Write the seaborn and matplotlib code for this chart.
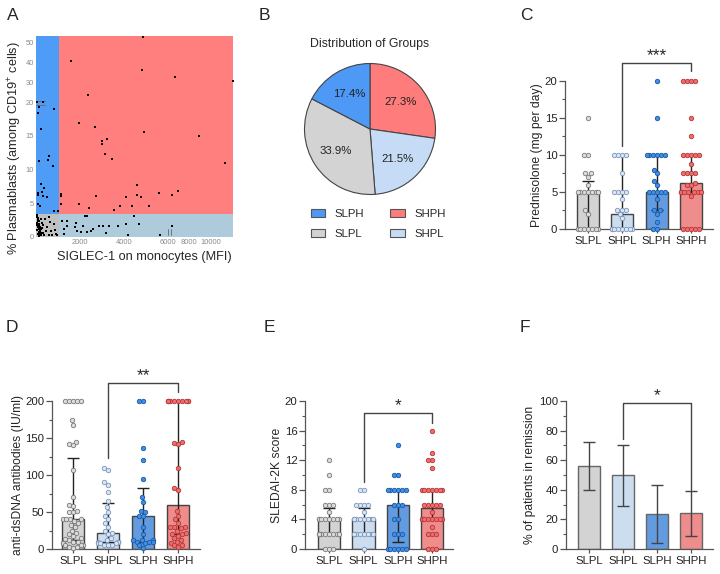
import warnings
warnings.filterwarnings("ignore")
import numpy as np
import pandas as pd
import matplotlib
matplotlib.use("Agg")
import matplotlib.pyplot as plt
import seaborn as sns
from matplotlib.patches import Patch
from matplotlib.ticker import MultipleLocator

# ---------------- data ----------------
groups = ["SLPL", "SHPL", "SLPH", "SHPH"]

# Panel A: SIGLEC-1 (MFI) vs % plasmablasts, per group
A_x_SHPH = [4890, 1605, 4820, 6710, 12100, 2390, 1970, 2700, 4940, 8950, 3000, 3250, 3030, 3150, 3470,
            11290, 1140, 1160, 2730, 4590, 4620, 4790, 4090, 5600, 6370, 6960, 1150, 1950, 2410, 3570,
            3830, 4360, 5150]
A_y_SHPH = [52.8, 40.6, 36.0, 32.6, 30.6, 23.5, 16.9, 16.4, 15.6, 15.0, 14.3, 14.5, 13.8, 12.3, 11.6,
            11.0, 6.35, 6.1, 6.06, 7.7, 6.2, 5.9, 5.9, 6.5, 6.2, 6.85, 4.9, 4.8, 4.2, 4.0,
            4.6, 4.6, 4.6]
A_x_SLPH = [345, 150, 105, 830, 255, 135, 605, 575, 770, 240, 375, 285, 120, 90, 330, 500, 195, 120,
            845, 1000, 40]
A_y_SLPH = [20.1, 19.25, 18.4, 18.96, 16.0, 11.2, 12.0, 11.4, 10.5, 7.9, 7.25, 6.65, 6.45, 6.25, 6.1,
            5.9, 4.5, 4.9, 3.8, 3.8, 20.3]
A_x_SHPL = [1210, 1410, 1820, 2240, 2350, 1440, 1290, 1790, 2170, 1890, 2060, 2510, 2620, 2860, 3070,
            3320, 2320, 3180, 3730, 4100, 4200, 4450, 4710, 5650, 6400, 1300]
A_y_SHPL = [2.4, 2.4, 2.1, 3.1, 3.1, 1.6, 1.15, 1.4, 1.6, 0.9, 0.65, 0.9, 1.15, 1.6, 1.6,
            1.6, 0.65, 0.5, 1.6, 1.9, 0.2, 3.1, 1.9, 0.3, 1.6, 0.4]
A_x_SLPL = [45, 62, 88, 105, 128, 150, 172, 195, 215, 240, 55, 75, 98, 118, 140, 163, 185, 208,
            262, 290, 318, 345, 372, 410, 455, 530, 590, 640, 705, 760, 830, 905, 965,
            48, 92, 135, 225, 270, 305, 615, 870]
A_y_SLPL = [3.2, 2.9, 2.6, 2.3, 1.9, 1.6, 1.2, 0.9, 0.5, 0.2, 1.0, 2.1, 0.4, 2.8, 0.7, 2.4, 1.5, 0.3,
            1.1, 2.0, 0.6, 1.7, 0.2, 2.6, 0.9, 1.4, 0.3, 2.2, 0.8, 0.2, 1.9, 0.4, 0.3,
            1.8, 1.5, 0.1, 2.7, 0.6, 1.3, 2.9, 1.0]
A_siglec_cut = 1050
A_plasma_cut = 3.4
A_xmax = 12100
A_ymax = 53.3
A_xticks = [2000, 4000, 6000, 8000, 10000]
A_yticks = [0, 5, 10, 15, 20, 30, 40, 50]

# Panel B: pie
pie_groups = ["SHPH", "SHPL", "SLPL", "SLPH"]
pie_values = [27.3, 21.5, 33.9, 17.4]

# Panel C: prednisolone
C_pts = {
    "SLPL": [15, 10, 10, 7.5, 7.5, 7, 6, 5, 5, 5, 5, 5, 5, 5, 2.5, 2, 0, 0, 0, 0, 0, 0, 0],
    "SHPL": [10, 10, 10, 10, 7.5, 5, 5, 5, 5, 4, 2.5, 2.5, 2.5, 2, 1.5, 0, 0, 0, 0, 0, 0, 0, 0],
    "SLPH": [20, 15, 10, 10, 10, 10, 10, 10, 8, 7.5, 6.5, 6, 5, 5, 5, 5, 5, 4, 2.5, 2.5, 2, 1, 0, 0],
    "SHPH": [20, 20, 20, 20, 15, 12.5, 10, 10, 10, 10, 10, 8.75, 7.5, 7.5, 7.5, 7.5, 6.25, 6, 6,
             5, 5, 5, 5, 5, 5, 5, 4.5, 0, 0, 0, 0, 0],
}
C_med = [5, 2, 5, 6.25]
C_lo = [0, 0, 2.5, 5]
C_hi = [6.5, 10, 10, 10]

# Panel D: anti-dsDNA
D_pts = {
    "SLPL": [200, 200, 200, 200, 200, 175, 168, 145, 142, 140, 107, 70, 60, 58, 52, 50, 50, 40, 40, 40,
             40, 38, 35, 33, 30, 25, 22, 20, 18, 15, 14, 12, 10, 10, 8, 8, 6, 5, 5, 3, 3, 2],
    "SHPL": [110, 107, 90, 87, 77, 65, 57, 50, 45, 40, 35, 30, 25, 22, 20, 15, 12, 10, 10, 10, 10,
             8, 8, 8, 5, 5, 5],
    "SLPH": [200, 200, 137, 120, 95, 70, 63, 52, 50, 45, 44, 30, 20, 12, 12, 12, 10, 10, 10, 8, 5, 2],
    "SHPH": [200, 200, 200, 200, 200, 200, 200, 200, 200, 200, 145, 143, 142, 110, 82, 80, 52, 45, 40,
             35, 30, 30, 30, 28, 25, 22, 20, 20, 18, 15, 12, 10, 8, 5, 5, 3],
}
D_med = [40, 22, 45, 59]
D_lo = [12, 10, 10, 20]
D_hi = [123, 62, 83, 200]

# Panel E: SLEDAI-2K
E_pts = {
    "SLPL": [12, 10, 8, 8, 6, 6, 6, 5, 4, 4, 4, 4, 4, 4, 4, 4, 2, 2, 2, 2, 2, 2, 2, 2, 0, 0, 0],
    "SHPL": [8, 8, 6, 6, 6, 6, 5, 4, 4, 4, 4, 4, 4, 4, 4, 2, 2, 2, 2, 2, 2, 2, 2, 0],
    "SLPH": [14, 10, 10, 8, 8, 8, 8, 8, 8, 6, 6, 6, 4, 4, 2, 2, 2, 0, 0, 0, 0, 0, 0],
    "SHPH": [16, 13, 12, 12, 11, 8, 8, 8, 8, 8, 8, 8, 6, 6, 6, 6, 6, 5, 4, 4, 4, 4, 4, 4, 4, 4,
             3, 2, 2, 2, 0, 0, 0],
}
E_med = [4, 4, 6, 5.5]
E_lo = [2, 2, 1, 4]
E_hi = [5.5, 5.5, 8, 8]

# Panel F: remission
F_val = [56, 50, 23.5, 24]
F_lo = [40, 29, 4, 9]
F_hi = [72, 70.5, 43.5, 39.5]

# ---------------- style ----------------
sns.set_theme(style="ticks")
plt.rcParams["font.family"] = ["Liberation Sans", "DejaVu Sans"]
plt.rcParams["mathtext.fontset"] = "custom"
plt.rcParams["mathtext.rm"] = "Liberation Sans"
plt.rcParams["mathtext.it"] = "Liberation Sans:italic"
plt.rcParams["mathtext.bf"] = "Liberation Sans:bold"

bar_face = {"SLPL": "#d3d3d3", "SHPL": "#c7dcf6", "SLPH": "#4d99f5", "SHPH": "#ff7c7c"}
pt_face = {"SLPL": "#dcdcdc", "SHPL": "#d8e6f8", "SLPH": "#3f8ee8", "SHPH": "#f26c6c"}
pt_edge = {"SLPL": "#7a7a7a", "SHPL": "#7d95b8", "SLPH": "#1e5aa0", "SHPH": "#b03a3a"}
AXC = "#555555"

W, H = 720, 574
fig = plt.figure(figsize=(W / 100, H / 100), dpi=100)


def px_axes(l, t, r, b):
    return fig.add_axes([l / W, 1 - b / H, (r - l) / W, (b - t) / H])


def label(x, y, s):
    fig.text(x / W, 1 - y / H, s, fontsize=12.5, ha="left", va="baseline")


# ---------------- Panel A ----------------
def fx(x):
    x = np.asarray(x, float)
    return np.where(x <= 6000, x, 6000 + (x - 6000) * 0.49)


def fxi(t):
    t = np.asarray(t, float)
    return np.where(t <= 6000, t, 6000 + (t - 6000) / 0.49)


def fy(y):
    y = np.asarray(y, float)
    return np.where(y <= 20, y, 20 + (y - 20) * 0.298)


def fyi(t):
    t = np.asarray(t, float)
    return np.where(t <= 20, t, 20 + (t - 20) / 0.298)


axA = px_axes(35.7, 35.7, 233.3, 236.7)
axA.set_xscale("function", functions=(fx, fxi))
axA.set_yscale("function", functions=(fy, fyi))
axA.fill_between([0, A_siglec_cut], A_plasma_cut, A_ymax, color="#4f9cf6", lw=0)
axA.fill_between([A_siglec_cut, A_xmax], A_plasma_cut, A_ymax, color="#ff7f7f", lw=0)
axA.fill_between([0, A_siglec_cut], 0, A_plasma_cut, color="#c0c0c0", lw=0)
axA.fill_between([A_siglec_cut, A_xmax], 0, A_plasma_cut, color="#aecbdb", lw=0)
dfA = pd.DataFrame({
    "x": A_x_SHPH + A_x_SLPH + A_x_SHPL + A_x_SLPL,
    "y": A_y_SHPH + A_y_SLPH + A_y_SHPL + A_y_SLPL,
})
sns.scatterplot(data=dfA, x="x", y="y", ax=axA, color="black", s=2.6, marker="s", linewidth=0, zorder=5)
# axis break marks
axA.plot([0, 420], [20.7, 20.7], color="#666666", lw=0.6, clip_on=False)
axA.plot([0, 420], [19.6, 19.6], color="#666666", lw=0.6, clip_on=False)
axA.plot([6000, 6000], [0.2, 1.1], color="#666666", lw=0.6)
axA.plot([6330, 6330], [0.2, 1.1], color="#666666", lw=0.6)
axA.set_xlim(0, A_xmax)
axA.set_ylim(0, A_ymax)
for s in axA.spines.values():
    s.set_visible(False)
axA.set_xticks(A_xticks)
axA.set_xticklabels([str(v) for v in A_xticks])
axA.set_yticks(A_yticks)
axA.set_yticklabels([str(v) for v in A_yticks])
axA.minorticks_off()
axA.tick_params(axis="x", length=0, labelsize=5.4, labelcolor="#8a8a8a", pad=2)
axA.tick_params(axis="y", length=0, labelsize=5.4, labelcolor="#8a8a8a", pad=1)
axA.set_xlabel("SIGLEC-1 on monocytes (MFI)", fontsize=9.2)
axA.set_ylabel("% Plasmablasts (among CD19$^{+}$ cells)", fontsize=9.2)
axA.xaxis.set_label_coords(0.55, -0.072)
axA.yaxis.set_label_coords(-0.06, 0.44)
label(7, 20, "A")

# ---------------- Panel B ----------------
R = 66.8
axB = px_axes(370 - R, 129 - R, 370 + R, 129 + R)
pie_cols = {"SHPH": "#ff7c7c", "SHPL": "#c6dcf6", "SLPL": "#d3d3d3", "SLPH": "#4d99f5"}
wedges, texts, autotexts = axB.pie(
    pie_values, colors=[pie_cols[g] for g in pie_groups],
    startangle=90, counterclock=False, autopct="%.1f%%", pctdistance=0.62,
    wedgeprops=dict(edgecolor="#444444", linewidth=0.8), textprops=dict(fontsize=8.2, color="#222222"))
axB.set_xlim(-1.02, 1.02)
axB.set_ylim(-1.02, 1.02)
axB.set_aspect("equal")
axB.axis("off")
fig.text(370 / W, 1 - 44.5 / H, "Distribution of Groups", fontsize=8.8, ha="center", va="center")
leg_order = ["SLPH", "SLPL", "SHPH", "SHPL"]
handles = [Patch(facecolor=pie_cols[g], edgecolor="#555555", linewidth=0.8) for g in leg_order]
fig.legend(handles, leg_order, ncol=2, loc="center", bbox_to_anchor=(378 / W, 1 - 224 / H),
           frameon=False, fontsize=8.2, handlelength=1.3, handleheight=0.65, handletextpad=0.8,
           columnspacing=2.3, labelspacing=0.85)
label(259, 20, "B")

# ---------------- bar panels ----------------
swarm_items = []


def style_axes(ax, xlim, ylim, major, minor, ylabel, labelpad):
    ax.set_xlim(*xlim)
    ax.set_ylim(*ylim)
    sns.despine(ax=ax)
    for s in ["left", "bottom"]:
        ax.spines[s].set_color(AXC)
        ax.spines[s].set_linewidth(0.9)
    ax.set_yticks(major)
    ax.yaxis.set_minor_locator(MultipleLocator(minor))
    ax.tick_params(axis="y", which="major", length=4, width=0.9, color=AXC, labelsize=8.2,
                   labelcolor="#222222", pad=1.5)
    ax.tick_params(axis="y", which="minor", length=2.5, width=0.8, color=AXC)
    ax.tick_params(axis="x", length=3, width=0.9, color=AXC, labelsize=8.2, labelcolor="#222222", pad=2)
    ax.set_xlabel("")
    ax.set_ylabel(ylabel, fontsize=8.7, labelpad=labelpad)


def bracket(ax, yl, yb, yr, stars):
    ax.plot([1, 1, 3, 3], [yl, yb, yb, yr], color="#444444", lw=1, clip_on=False, zorder=6)
    ax.text(2, yb, stars, ha="center", va="bottom", fontsize=12.5, clip_on=False)


def bar_panel(ax, pts, med, lo, hi, edge="#444444", ecol="#222222"):
    sns.barplot(x=groups, y=med, order=groups, hue=groups, hue_order=groups,
                palette=bar_face, width=0.64, edgecolor=edge, linewidth=1,
                errorbar=None, legend=False, ax=ax, zorder=1)
    lo = np.array(lo, float)
    hi = np.array(hi, float)
    ax.errorbar(x=np.arange(len(groups)), y=(lo + hi) / 2, yerr=(hi - lo) / 2, fmt="none",
                ecolor=ecol, elinewidth=1, capsize=4, capthick=1, zorder=3)
    if pts is not None:
        for i, g in enumerate(groups):
            vals = pts[g]
            n_before = len(ax.collections)
            sns.swarmplot(x=[g] * len(vals), y=vals, order=groups, color=pt_face[g],
                          edgecolor=pt_edge[g], linewidth=0.6, size=3.2, ax=ax, zorder=4)
            for c in ax.collections[n_before:]:
                swarm_items.append((c, i))
    for c in ax.collections:
        c.set_clip_on(False)


# C
axC = px_axes(565, 81, 713, 229)
bar_panel(axC, C_pts, C_med, C_lo, C_hi)
style_axes(axC, (-0.67, 3.64), (0, 20), [0, 5, 10, 15, 20], 2.5, "Prednisolone (mg per day)", 1.2)
bracket(axC, 11.2, 22.4, 21.35, "***")
label(520, 20, "C")

# D
axD = px_axes(52, 401, 200, 549)
bar_panel(axD, D_pts, D_med, D_lo, D_hi)
style_axes(axD, (-0.6, 3.63), (0, 200), [0, 50, 100, 150, 200], 25, "anti-dsDNA antibodies (IU/ml)", 1)
bracket(axD, 123, 224.3, 212, "**")
label(6, 332, "D")

# E
axE = px_axes(305, 401, 453, 549)
bar_panel(axE, E_pts, E_med, E_lo, E_hi)
style_axes(axE, (-0.7, 3.6), (0, 20), [0, 4, 8, 12, 16, 20], 2, "SLEDAI-2K score", 1)
bracket(axE, 9.05, 18.4, 17.0, "*")
label(264, 332, "E")

# F
axF = px_axes(566, 401, 713, 549)
bar_panel(axF, None, F_val, F_lo, F_hi, edge="#666666", ecol="#444444")
style_axes(axF, (-0.67, 3.64), (0, 100), [0, 20, 40, 60, 80, 100], 10, "% of patients in remission", 2)
bracket(axF, 74.3, 98.6, 40, "*")
label(520, 332, "F")

# let seaborn lay out the swarms, then compact them like the reference's dot layout
fig.canvas.draw()
for c, i in swarm_items:
    if "draw" in c.__dict__:
        del c.__dict__["draw"]
    off = np.array(c.get_offsets(), dtype=float)
    if len(off):
        dx = np.clip((off[:, 0] - i) * 0.72, -0.33, 0.33)
        off[:, 0] = i + dx
        c.set_offsets(off)

fig.savefig("out.png", dpi=100)
